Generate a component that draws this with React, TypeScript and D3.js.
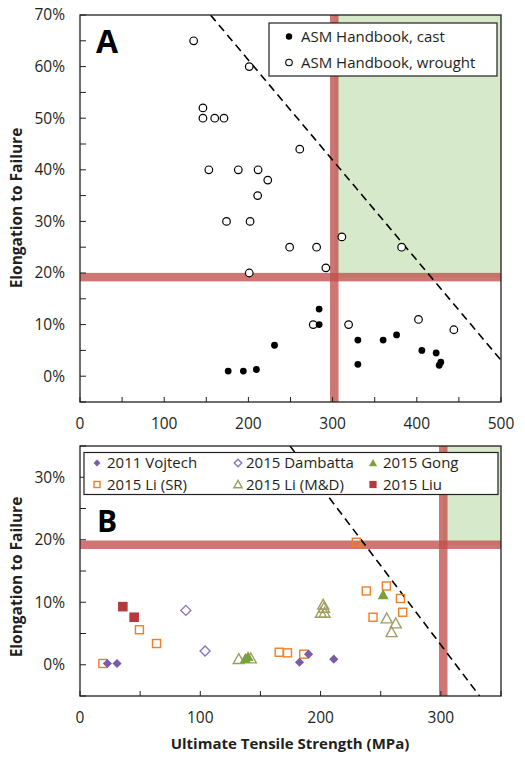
import React from "react";
import * as d3 from "d3";

// ---------- Panel A data (ASM Handbook) ----------
const castUTS = [176, 194, 209.5, 231, 284, 284, 330, 330, 360, 376, 406, 423, 426.6, 428.5];
const castEl = [1, 1, 1.3, 6, 13, 10, 7, 2.3, 7, 8, 5, 4.5, 2.1, 2.7];
const wroughtUTS = [135, 201, 146, 146, 160, 171, 261, 153, 188, 211.5, 223, 211, 174, 202, 249, 281, 201, 311, 382, 292, 277, 319, 402, 444];
const wroughtEl = [65, 60, 52, 50, 50, 50, 44, 40, 40, 40, 38, 35, 30, 30, 25, 25, 20, 27, 25, 21, 10, 10, 11, 9];

// ---------- Panel B data ----------
const vojtechUTS = [22.8, 30.8, 182.5, 190, 211];
const vojtechEl = [0.2, 0.2, 0.4, 1.7, 0.9];
const dambattaUTS = [88, 104];
const dambattaEl = [8.7, 2.2];
const liSRUTS = [19, 49.4, 63.6, 165.6, 172.5, 186, 229.7, 238, 243.6, 254.7, 266.4, 268.3];
const liSREl = [0.2, 5.6, 3.4, 2.0, 1.9, 1.7, 19.6, 11.8, 7.6, 12.6, 10.6, 8.4];
const liMDUTS = [132, 142, 200.3, 203.3, 202.8, 202.2, 255, 262.5, 259];
const liMDEl = [0.9, 1.0, 8.3, 8.3, 9.1, 9.6, 7.4, 6.6, 5.2];
const gongUTS = [137.5, 139.7, 252];
const gongEl = [1.0, 1.3, 11.2];
const liuUTS = [35.6, 45];
const liuEl = [9.3, 7.6];

// thresholds and trend lines
const utsThreshold = 302;
const elThreshold = 19.2;
const trendA = [[155, 70], [500, 3.1]];
const trendB = [[174.6, 35], [332.2, -5]];

// axes
const xTicksA = [0, 100, 200, 300, 400, 500];
const yTicksA = [0, 10, 20, 30, 40, 50, 60, 70];
const xTicksB = [0, 100, 200, 300];
const yTicksB = [0, 10, 20, 30];

const legendA = ["ASM Handbook, cast", "ASM Handbook, wrought"];
const legendB = ["2011 Vojtech", "2015 Dambatta", "2015 Gong", "2015 Li (SR)", "2015 Li (M&D)", "2015 Liu"];

const FONT = "'Open Sans', 'Noto Sans', sans-serif";
const TXT = "#231f20";
const BAND = "rgba(192,80,77,0.78)";
const GREEN = "#d6eacb";

const zip = (a: number[], b: number[]) => a.map((v, i) => [v, b[i]] as [number, number]);

type Sym = "diamondF" | "diamondO" | "triF" | "triO" | "sqF" | "sqO" | "circF" | "circO";

function Marker({ x, y, sym, color, s = 1 }: { x: number; y: number; sym: Sym; color: string; s?: number }) {
  const sw = 1.4;
  switch (sym) {
    case "circF":
      return <circle cx={x} cy={y} r={3.4 * s} fill="#000" />;
    case "circO":
      return <circle cx={x} cy={y} r={3.8 * s} fill="#fff" stroke="#000" strokeWidth={1.2} />;
    case "diamondF": {
      const r = 4.6 * s;
      return <path d={`M${x},${y - r}L${x + r},${y}L${x},${y + r}L${x - r},${y}Z`} fill={color} />;
    }
    case "diamondO": {
      const r = 5 * s;
      return <path d={`M${x},${y - r}L${x + r},${y}L${x},${y + r}L${x - r},${y}Z`} fill="#fff" stroke={color} strokeWidth={sw} />;
    }
    case "triF": {
      const r = 5.5 * s;
      return <path d={`M${x},${y - r}L${x + r},${y + r * 0.8}L${x - r},${y + r * 0.8}Z`} fill={color} />;
    }
    case "triO": {
      const r = 5.5 * s;
      return <path d={`M${x},${y - r}L${x + r},${y + r * 0.8}L${x - r},${y + r * 0.8}Z`} fill="none" stroke={color} strokeWidth={sw} />;
    }
    case "sqF": {
      const h = 4.8 * s;
      return <rect x={x - h} y={y - h} width={2 * h} height={2 * h} fill={color} />;
    }
    case "sqO": {
      const h = 4 * s;
      return <rect x={x - h} y={y - h} width={2 * h} height={2 * h} fill="none" stroke={color} strokeWidth={sw} />;
    }
  }
  return null;
}

function Frame({
  x, y, xTicks, yTicks, xMinor, yMinor,
}: {
  x: d3.ScaleLinear<number, number>; y: d3.ScaleLinear<number, number>;
  xTicks: number[]; yTicks: number[]; xMinor: number[]; yMinor: number[];
}) {
  const [x0, x1] = x.range();
  const [y0, y1] = y.range();
  return (
    <g>
      <rect x={x0} y={y1} width={x1 - x0} height={y0 - y1} fill="none" stroke="#231f20" strokeWidth={1.3} />
      {xMinor.map((t) => (
        <line key={"xm" + t} x1={x(t)} x2={x(t)} y1={y0} y2={y0 - 5} stroke="#231f20" strokeWidth={1} />
      ))}
      {yMinor.map((t) => (
        <line key={"ym" + t} x1={x0} x2={x0 + 6} y1={y(t)} y2={y(t)} stroke="#231f20" strokeWidth={1} />
      ))}
      {xTicks.map((t) => (
        <text key={"xt" + t} x={x(t)} y={y0 + 27} textAnchor="middle" fontSize={15.5} fontFamily={FONT} fill={TXT}>
          {t}
        </text>
      ))}
      {yTicks.map((t) => (
        <text key={"yt" + t} x={x0 - 15} y={y(t)} dy="0.35em" textAnchor="end" fontSize={15.5} fontFamily={FONT} fill={TXT}>
          {t + "%"}
        </text>
      ))}
    </g>
  );
}

export default function App() {
  const xA = d3.scaleLinear().domain([0, 500]).range([80, 501]);
  const yA = d3.scaleLinear().domain([-5, 70]).range([402, 15]);
  const xB = d3.scaleLinear().domain([0, 350]).range([80, 501]);
  const yB = d3.scaleLinear().domain([-5, 35]).range([696, 446]);
  const line = d3.line<number[]>();

  const minorX = (max: number) => d3.range(0, max + 1, 50);
  const band = 8.5;

  const legBSyms: [Sym, string][] = [
    ["diamondF", "#7a5ca8"],
    ["diamondO", "#8c72c4"],
    ["triF", "#77a33a"],
    ["sqO", "#f07e26"],
    ["triO", "#a09d62"],
    ["sqF", "#b13b3d"],
  ];

  return (
    <svg width={525} height={762} style={{ position: "absolute", left: 0, top: 0, background: "#fff" }}>
      <defs>
        <clipPath id="clipA">
          <rect x={80} y={15} width={421} height={387} />
        </clipPath>
        <clipPath id="clipB">
          <rect x={80} y={446} width={421} height={250} />
        </clipPath>
      </defs>
      <rect width={525} height={762} fill="#fff" />

      {/* ---------- Panel A ---------- */}
      <g clipPath="url(#clipA)">
        <rect x={xA(utsThreshold)} y={yA(70)} width={xA(500) - xA(utsThreshold)} height={yA(elThreshold) - yA(70)} fill={GREEN} />
        <rect x={80} y={yA(elThreshold) - band / 2} width={421} height={band} fill={BAND} />
        <rect x={xA(utsThreshold) - band / 2} y={15} width={band} height={387} fill={BAND} />
        <path d={line(trendA.map(([u, e]) => [xA(u), yA(e)]))!} stroke="#000" strokeWidth={1.6} strokeDasharray="8,5" fill="none" />
      </g>
      <Frame x={xA} y={yA} xTicks={xTicksA} yTicks={yTicksA} xMinor={minorX(500)} yMinor={d3.range(-5, 71, 5)} />
      {zip(wroughtUTS, wroughtEl).map(([u, e], i) => (
        <Marker key={"w" + i} x={xA(u)} y={yA(e)} sym="circO" color="#000" />
      ))}
      {zip(castUTS, castEl).map(([u, e], i) => (
        <Marker key={"c" + i} x={xA(u)} y={yA(e)} sym="circF" color="#000" />
      ))}
      <text x={96} y={53} fontSize={32} fontWeight="bold" fontFamily={FONT} fill="#000">A</text>
      <g>
        <rect x={269} y={23} width={228} height={53} fill="#fff" stroke="#231f20" strokeWidth={1.2} />
        <circle cx={289} cy={36.5} r={3.2} fill="#000" />
        <circle cx={289} cy={62.5} r={3.3} fill="#fff" stroke="#000" strokeWidth={1.1} />
        <text x={301} y={36.5} dy="0.35em" fontSize={15} fontFamily={FONT} fill={TXT}>{legendA[0]}</text>
        <text x={301} y={62.5} dy="0.35em" fontSize={15} fontFamily={FONT} fill={TXT}>{legendA[1]}</text>
      </g>
      <text transform="translate(22,208) rotate(-90)" textAnchor="middle" fontSize={15.5} fontWeight="bold" fontFamily={FONT} fill={TXT}>
        Elongation to Failure
      </text>

      {/* ---------- Panel B ---------- */}
      <g clipPath="url(#clipB)">
        <rect x={xB(utsThreshold)} y={yB(35)} width={xB(350) - xB(utsThreshold)} height={yB(elThreshold) - yB(35)} fill={GREEN} />
        <rect x={80} y={yB(elThreshold) - band / 2} width={421} height={band} fill={BAND} />
        <rect x={xB(utsThreshold) - band / 2} y={446} width={band} height={250} fill={BAND} />
        <path d={line(trendB.map(([u, e]) => [xB(u), yB(e)]))!} stroke="#000" strokeWidth={1.6} strokeDasharray="8,5" fill="none" />
      </g>
      <Frame x={xB} y={yB} xTicks={xTicksB} yTicks={yTicksB} xMinor={minorX(350)} yMinor={d3.range(-5, 36, 5)} />
      {zip(dambattaUTS, dambattaEl).map(([u, e], i) => (
        <Marker key={"d" + i} x={xB(u)} y={yB(e)} sym="diamondO" color={legBSyms[1][1]} />
      ))}
      {zip(liSRUTS, liSREl).map(([u, e], i) => (
        <Marker key={"s" + i} x={xB(u)} y={yB(e)} sym="sqO" color={legBSyms[3][1]} />
      ))}
      {zip(liMDUTS, liMDEl).map(([u, e], i) => (
        <Marker key={"m" + i} x={xB(u)} y={yB(e)} sym="triO" color={legBSyms[4][1]} />
      ))}
      {zip(gongUTS, gongEl).map(([u, e], i) => (
        <Marker key={"g" + i} x={xB(u)} y={yB(e)} sym="triF" color={legBSyms[2][1]} />
      ))}
      {zip(vojtechUTS, vojtechEl).map(([u, e], i) => (
        <Marker key={"v" + i} x={xB(u)} y={yB(e)} sym="diamondF" color={legBSyms[0][1]} />
      ))}
      {zip(liuUTS, liuEl).map(([u, e], i) => (
        <Marker key={"l" + i} x={xB(u)} y={yB(e)} sym="sqF" color={legBSyms[5][1]} />
      ))}
      <text x={97} y={532} fontSize={30} fontWeight="bold" fontFamily={FONT} fill="#000">B</text>
      <g>
        <rect x={84} y={452.5} width={414} height={42} fill="#fff" stroke="#231f20" strokeWidth={1.2} />
        {legendB.map((lbl, i) => {
          const col = i % 3;
          const row = Math.floor(i / 3);
          const mx = [97, 238, 373][col];
          const tx = [107, 246, 383][col];
          const cy = [463, 484.5][row];
          const [sym, color] = legBSyms[i];
          return (
            <g key={lbl}>
              <Marker x={mx} y={cy} sym={sym} color={color} s={0.75} />
              <text x={tx} y={cy} dy="0.35em" fontSize={15} fontFamily={FONT} fill={TXT}>{lbl}</text>
            </g>
          );
        })}
      </g>
      <text transform="translate(22,577) rotate(-90)" textAnchor="middle" fontSize={15.5} fontWeight="bold" fontFamily={FONT} fill={TXT}>
        Elongation to Failure
      </text>
      <text x={290} y={749} textAnchor="middle" fontSize={15} fontWeight="bold" fontFamily={FONT} fill={TXT}>
        Ultimate Tensile Strength (MPa)
      </text>
    </svg>
  );
}
